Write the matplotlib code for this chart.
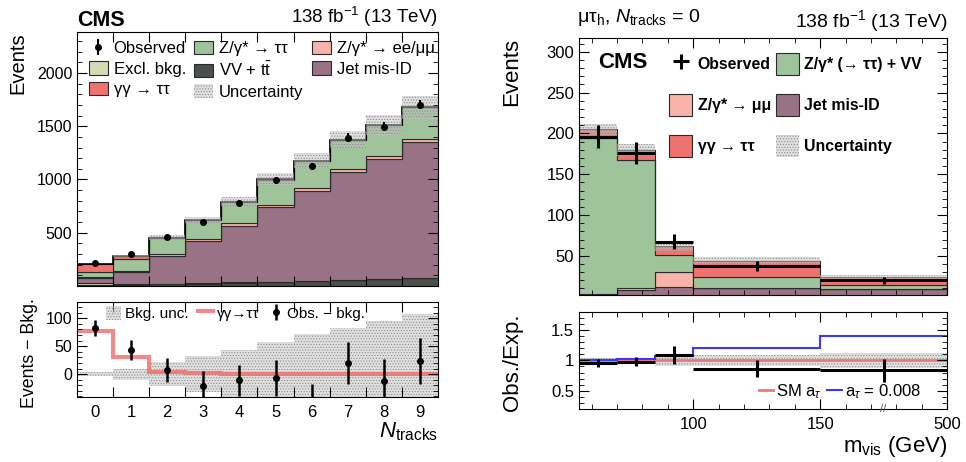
import numpy as np
import matplotlib
matplotlib.use("Agg")
import matplotlib.pyplot as plt
from matplotlib.ticker import MultipleLocator, FixedLocator, NullFormatter

plt.rcParams['font.family'] = ['Liberation Sans', 'DejaVu Sans']
plt.rcParams['mathtext.fontset'] = 'custom'
plt.rcParams['mathtext.rm'] = 'Liberation Sans'
plt.rcParams['mathtext.it'] = 'Liberation Sans:italic'
plt.rcParams['mathtext.bf'] = 'Liberation Sans:bold'
plt.rcParams['hatch.linewidth'] = 0.5

# --- N_tracks distribution (left) ---
ntracks = np.arange(10)
obs_nt = [213, 296, 456, 598, 778, 992, 1122, 1394, 1497, 1702]
obs_nt_err = [14, 18, 22, 26, 28, 32, 35, 38, 38, 41]
vv_tt = [8, 10, 14, 20, 28, 35, 45, 55, 62, 72]
excl_bkg = [20, 6, 5, 5, 5, 5, 5, 5, 5, 5]
jet_misid = [48, 118, 262, 394, 532, 698, 844, 1009, 1127, 1276]
z_eemumu = [8, 8, 17, 18, 23, 21, 22, 25, 25, 28]
z_tautau = [46, 111, 151, 181.5, 201, 240, 258, 280, 289.5, 297]
gg_tautau = [78, 31, 4, 1.5, 1, 0.8, 0.7, 0.6, 0.5, 0.5]
bkg_unc = [3, 10, 21, 32, 43, 58, 71, 83, 95, 108]

# --- m_vis distribution, mu tau_h, N_tracks = 0 (right) ---
mvis_edges = [55, 70, 85, 100, 150, 500]
obs_mv = [196, 176, 67.5, 38, 20]
obs_mv_err = [14, 13, 9, 6, 4.5]
jet_mv = [3, 8, 12, 10, 9]
zmumu_mv = [0.5, 3, 18, 1, 0.5]
ztt_vv_mv = [191.5, 157, 21, 13.5, 4.5]
gg_mv = [10, 12, 11, 19.5, 10]
unc_rel_mv = [0.035, 0.04, 0.09, 0.09, 0.12]
ratio_sm = [1, 1, 1, 1, 1]
ratio_a008 = [1.005, 1.03, 1.07, 1.20, 1.40]

c_ztt = '#9fc49b'
c_zll = '#f8b4aa'
c_excl = '#d3dab4'
c_vv = '#4b504c'
c_jet = '#9a7285'
c_gg = '#ee7370'
c_edge = '#2a2a2a'
unc_face = (0.76, 0.76, 0.76, 0.5)


def draw_stack(ax, edges, comps):
    bottom = np.zeros(len(edges) - 1)
    for vals, color, label in comps:
        top = bottom + np.asarray(vals, dtype=float)
        ax.stairs(top, edges, baseline=bottom, fill=True, facecolor=color,
                  edgecolor=c_edge, linewidth=0.8, label=label)
        bottom = top
    return bottom


def unc_band(ax, edges, centre, half, label=None):
    return ax.stairs(centre + half, edges, baseline=centre - half, fill=True,
                     facecolor=unc_face, edgecolor='#8c8c8c',
                     hatch='......', linewidth=0, label=label)


def root_ticks(ax):
    ax.tick_params(which='both', direction='in', top=True, right=True)
    ax.tick_params(which='major', length=7)
    ax.tick_params(which='minor', length=3.5)


def to_axis(v):
    # last m_vis bin (150-500 GeV) is drawn compressed to 50 GeV width
    v = np.asarray(v, dtype=float)
    return np.where(v <= 150, v, 150 + (v - 150) * 50.0 / 350.0)


fig = plt.figure(figsize=(9.66, 4.62), dpi=100)
ax1 = fig.add_axes([0.0797, 0.381, 0.3737, 0.5498])
ax2 = fig.add_axes([0.0797, 0.1407, 0.3737, 0.2056])
ax3 = fig.add_axes([0.5994, 0.3615, 0.381, 0.5563])
ax4 = fig.add_axes([0.5994, 0.1147, 0.381, 0.2106])

# ---------------- left, top ----------------
nt_edges = np.arange(11) - 0.5
bkg_comps = [(vv_tt, c_vv, r'VV + $\mathrm{t\bar{t}}$'),
             (excl_bkg, c_excl, 'Excl. bkg.'),
             (jet_misid, c_jet, 'Jet mis-ID'),
             (z_eemumu, c_zll, 'Z/γ* → ee/μμ'),
             (z_tautau, c_ztt, 'Z/γ* → ττ')]
bkg_tot = draw_stack(ax1, nt_edges, bkg_comps)
ax1.stairs(bkg_tot + np.asarray(gg_tautau), nt_edges, baseline=bkg_tot, fill=True,
           facecolor=c_gg, edgecolor=c_edge, linewidth=0.8, label='γγ → ττ')
exp_tot = bkg_tot + np.asarray(gg_tautau)
ax1.stairs(exp_tot, nt_edges, baseline=None, color='k', linewidth=1.2)
unc_band(ax1, nt_edges, exp_tot, np.asarray(bkg_unc), label='Uncertainty')
ax1.errorbar(ntracks, obs_nt, yerr=obs_nt_err, fmt='o', ms=4, color='k',
             elinewidth=1.5, capsize=0, label='Observed')

ax1.set_xlim(-0.5, 9.5)
ax1.set_ylim(0, 2385)
ax1.xaxis.set_major_locator(FixedLocator(nt_edges[1:-1]))
ax1.xaxis.set_major_formatter(NullFormatter())
ax1.yaxis.set_major_locator(FixedLocator([500, 1000, 1500, 2000]))
ax1.yaxis.set_minor_locator(MultipleLocator(100))
root_ticks(ax1)
ax1.tick_params(labelsize=11.5)
ax1.set_ylabel('Events', fontsize=14.5, loc='top')
ax1.yaxis.set_label_coords(-0.1385, 1.0)

h, l = ax1.get_legend_handles_labels()
hd = dict(zip(l, h))
order = ['Observed', 'Excl. bkg.', 'γγ → ττ', 'Z/γ* → ττ', r'VV + $\mathrm{t\bar{t}}$',
         'Uncertainty', 'Z/γ* → ee/μμ', 'Jet mis-ID']
ax1.legend([hd[k] for k in order], order, ncol=3, loc='upper left',
           bbox_to_anchor=(0.032, 0.965), frameon=False, fontsize=12,
           handlelength=1.15, handleheight=0.85, handletextpad=0.35,
           columnspacing=0.5, labelspacing=0.3, borderaxespad=0, borderpad=0)

ax1.text(0.0, 1.022, 'CMS', transform=ax1.transAxes, fontsize=15.5,
         fontweight='bold', ha='left', va='baseline')
ax1.text(1.0, 1.035, '138 fb$^{-1}$ (13 TeV)', transform=ax1.transAxes,
         fontsize=13.5, ha='right', va='baseline')

# ---------------- left, bottom ----------------
resid = np.asarray(obs_nt) - bkg_tot
ax2.bar(ntracks, 2 * np.asarray(bkg_unc), bottom=-np.asarray(bkg_unc), width=1.0,
        facecolor=unc_face, edgecolor='#8c8c8c', hatch='......',
        linewidth=0, label='Bkg. unc.')
ax2.stairs(gg_tautau, nt_edges, baseline=None, color='#f06a6a', linewidth=3,
           alpha=0.8, label='γγ→ττ')
ax2.errorbar(ntracks, resid, yerr=obs_nt_err, fmt='o', ms=4, color='k',
             elinewidth=1.8, capsize=0, label='Obs. − bkg.')
ax2.set_xlim(-0.5, 9.5)
ax2.set_ylim(-41, 129)
ax2.xaxis.set_major_locator(FixedLocator(nt_edges[1:-1]))
ax2.xaxis.set_major_formatter(NullFormatter())
ax2.xaxis.set_minor_locator(FixedLocator(ntracks))
ax2.set_xticklabels([str(n) for n in ntracks], minor=True)
ax2.yaxis.set_major_locator(FixedLocator([0, 50, 100]))
ax2.yaxis.set_minor_locator(MultipleLocator(10))
root_ticks(ax2)
ax2.tick_params(axis='x', which='minor', length=0, pad=6)
ax2.tick_params(labelsize=11.5)
ax2.tick_params(axis='x', which='minor', labelsize=12)
ax2.set_ylabel('Events − Bkg.', fontsize=12.8)
ax2.yaxis.set_label_coords(-0.108, 0.46)
ax2.set_xlabel(r'$N_{\mathrm{tracks}}$', fontsize=16, loc='right', labelpad=0)

h, l = ax2.get_legend_handles_labels()
hd = dict(zip(l, h))
order = ['Bkg. unc.', 'γγ→ττ', 'Obs. − bkg.']
ax2.legend([hd[k] for k in order], order, ncol=3, loc='center left',
           bbox_to_anchor=(0.08, 0.88), frameon=False,
           fontsize=11, handlelength=1.0, handleheight=1.0, handletextpad=0.25,
           columnspacing=0.6, borderaxespad=0, borderpad=0)

# ---------------- right, top ----------------
mv_edges = to_axis(mvis_edges)
mv_centres = 0.5 * (mv_edges[1:] + mv_edges[:-1])
mv_half = 0.5 * (mv_edges[1:] - mv_edges[:-1])
mv_comps = [(jet_mv, c_jet, 'Jet mis-ID'),
            (zmumu_mv, c_zll, 'Z/γ* → μμ'),
            (ztt_vv_mv, c_ztt, 'Z/γ* (→ ττ) + VV'),
            (gg_mv, c_gg, 'γγ → ττ')]
mv_tot = draw_stack(ax3, mv_edges, mv_comps)
unc_band(ax3, mv_edges, mv_tot, mv_tot * np.asarray(unc_rel_mv), label='Uncertainty')
ax3.errorbar(mv_centres, obs_mv, xerr=mv_half, yerr=obs_mv_err, fmt='none',
             ecolor='k', elinewidth=2.2, capsize=0, label='Observed')

ax3.set_xlim(55, 200)
ax3.set_ylim(2, 317)
ax3.xaxis.set_major_locator(FixedLocator([100, 150, 200]))
ax3.xaxis.set_minor_locator(MultipleLocator(10))
ax3.xaxis.set_major_formatter(NullFormatter())
ax3.yaxis.set_major_locator(FixedLocator([50, 100, 150, 200, 250, 300]))
ax3.yaxis.set_minor_locator(MultipleLocator(10))
root_ticks(ax3)
ax3.tick_params(labelsize=12)
ax3.set_ylabel('Events', fontsize=16, loc='top')
ax3.yaxis.set_label_coords(-0.155, 1.0)

h, l = ax3.get_legend_handles_labels()
hd = dict(zip(l, h))
order = ['Observed', 'Z/γ* → μμ', 'γγ → ττ', 'Z/γ* (→ ττ) + VV', 'Jet mis-ID', 'Uncertainty']
ax3.legend([hd[k] for k in order], order, ncol=2, loc='upper left',
           bbox_to_anchor=(0.245, 0.94), frameon=False,
           prop={'size': 11.4, 'weight': 'bold'},
           handlelength=1.45, handleheight=1.75, handletextpad=0.35,
           columnspacing=0.3, labelspacing=1.2, borderaxespad=0, borderpad=0)

ax3.text(0.052, 0.884, 'CMS', transform=ax3.transAxes, fontsize=16,
         fontweight='bold', ha='left', va='baseline')
ax3.text(1.0, 1.041, '138 fb$^{-1}$ (13 TeV)', transform=ax3.transAxes,
         fontsize=14, ha='right', va='baseline')
ax3.text(-0.006, 1.063, r'μτ$_{\mathrm{h}}$, $N_{\mathrm{tracks}}$ = 0',
         transform=ax3.transAxes, fontsize=14, ha='left', va='baseline')

# ---------------- right, bottom ----------------
ratio = np.asarray(obs_mv) / mv_tot
ratio_err = np.asarray(obs_mv_err) / mv_tot
unc_band(ax4, mv_edges, np.ones(5), np.asarray(unc_rel_mv))
ax4.stairs(ratio_sm, mv_edges, baseline=None, color='#f07777', linewidth=2,
           label=r'SM a$_{\tau}$')
ax4.stairs(ratio_a008, mv_edges, baseline=None, color='#3a3aff', linewidth=1.5,
           label=r'a$_{\tau}$ = 0.008')
ax4.errorbar(mv_centres, ratio, xerr=mv_half, yerr=ratio_err, fmt='none',
             ecolor='k', elinewidth=2.2, capsize=0)
ax4.set_xlim(55, 200)
ax4.set_ylim(0.2, 1.8)
ax4.xaxis.set_major_locator(FixedLocator([100, 150, 200]))
ax4.xaxis.set_minor_locator(MultipleLocator(10))
ax4.set_xticklabels(['100', '150', '500'])
ax4.yaxis.set_major_locator(FixedLocator([0.5, 1.0, 1.5]))
ax4.yaxis.set_major_formatter(plt.FuncFormatter(lambda v, p: f'{v:g}'))
ax4.yaxis.set_minor_locator(MultipleLocator(0.1))
root_ticks(ax4)
ax4.tick_params(labelsize=12)
ax4.tick_params(axis='x', pad=6)
ax4.set_ylabel('Obs./Exp.', fontsize=16)
ax4.yaxis.set_label_coords(-0.152, 0.48)
ax4.set_xlabel(r'm$_{\mathrm{vis}}$ (GeV)', fontsize=16, loc='right', labelpad=1)
ax4.text(175, 0.2, '//', fontsize=8, ha='center', va='center', color='#555555')
ax4.legend(ncol=2, loc='center left', bbox_to_anchor=(0.489, 0.18), frameon=False,
           fontsize=12, handlelength=0.85, handletextpad=0.2, columnspacing=0.3,
           borderaxespad=0, borderpad=0)

fig.savefig('out.png', dpi=100)
